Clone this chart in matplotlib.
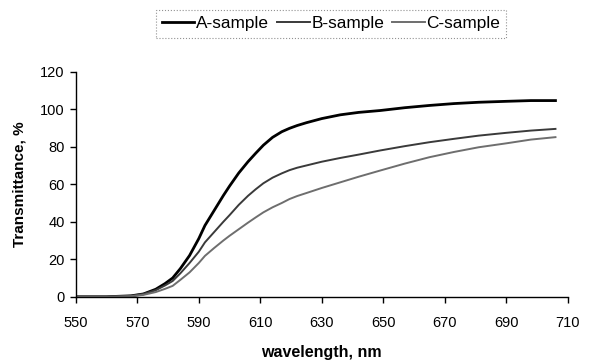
import matplotlib
matplotlib.use('Agg')
import matplotlib.pyplot as plt

plt.rcParams['font.family'] = ['Liberation Sans', 'DejaVu Sans']

# ── Data ──────────────────────────────────────────────────────
wavelength = [550, 560, 568, 572, 576, 579, 581.5, 584, 587, 590, 592, 595, 598,
              600, 603, 606, 608.5, 611, 614, 617, 619.5, 622, 625, 630, 636,
              642, 649, 657, 665, 673, 681, 690, 698, 706]
a_sample = [0, 0, 0.5, 1.5, 4, 7, 10, 15, 22, 31, 38, 46, 54,
            59, 66, 72, 76.5, 80.8, 85, 88, 89.8, 91.3, 92.8, 95, 97,
            98.3, 99.3, 100.8, 102, 103, 103.7, 104.2, 104.6, 104.6]
b_sample = [0, 0, 0.5, 1.5, 3.5, 6, 8.4, 12.5, 18, 24, 29, 34.5, 40,
            43.5, 49, 53.8, 57.3, 60.5, 63.5, 65.8, 67.5, 68.8, 70, 72, 74,
            75.8, 78, 80.3, 82.4, 84.2, 85.9, 87.4, 88.6, 89.5]
c_sample = [0, 0, 0.3, 1, 2.5, 4.2, 5.8, 9, 13, 18, 21.8, 26, 30,
            32.5, 36, 39.5, 42.3, 45, 47.7, 50, 52.1, 53.7, 55.3, 58, 61,
            64, 67.3, 71, 74.4, 77.2, 79.7, 81.8, 83.8, 85.1]

x_ticks = list(range(550, 711, 20))
y_ticks = list(range(0, 121, 20))

# ── Plot ──────────────────────────────────────────────────────
fig = plt.figure(figsize=(6.04, 3.63), dpi=100)
ax = fig.add_axes([0.1255, 0.1825, 0.8145, 0.620])

ax.plot(wavelength, a_sample, color='#000000', linewidth=2.0, label='A-sample')
ax.plot(wavelength, b_sample, color='#3a3a3a', linewidth=1.4, label='B-sample')
ax.plot(wavelength, c_sample, color='#6e6e6e', linewidth=1.4, label='C-sample')

ax.set_xlim(550, 710)
ax.set_ylim(0, 120)
ax.set_xticks(x_ticks)
ax.set_yticks(y_ticks)
ax.tick_params(direction='out', length=4.5, width=1, labelsize=10.5)
ax.tick_params(axis='x', pad=9)
ax.tick_params(axis='y', pad=3.5)

for side in ['top', 'right']:
    ax.spines[side].set_visible(False)
for side in ['left', 'bottom']:
    ax.spines[side].set_linewidth(1)

ax.set_xlabel('wavelength, nm', fontsize=11.5, fontweight='bold', labelpad=11)
ax.set_ylabel('Transmittance, %', fontsize=11, fontweight='bold', labelpad=10)

leg = fig.legend(loc='center', bbox_to_anchor=(0.548, 0.934), ncol=3,
                 fontsize=12.4, frameon=True, fancybox=False,
                 handlelength=1.9, handletextpad=0.1, columnspacing=0.45,
                 borderpad=0.35, borderaxespad=0)
leg.get_frame().set_edgecolor('#777777')
leg.get_frame().set_linestyle(':')
leg.get_frame().set_linewidth(0.8)

plt.savefig('out.png', dpi=100)
plt.close()
